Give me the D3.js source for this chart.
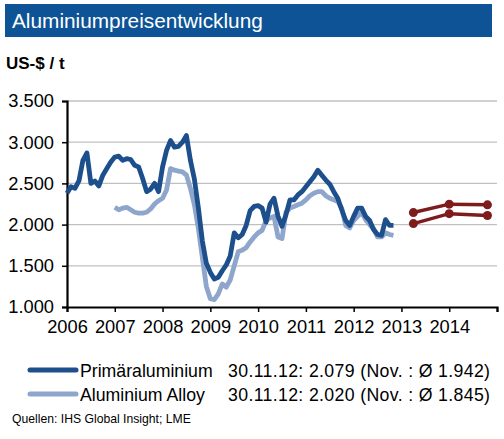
<!DOCTYPE html>
<html>
<head>
<meta charset="utf-8">
<script src="https://cdn.jsdelivr.net/npm/d3@7"></script>
<style>
  body { margin: 0; background: #fff; }
  svg { font-family: "Liberation Sans", Arial, sans-serif; }
</style>
</head>
<body>
<script>
// Monatswerte ab Jan 2006 (Primär) bzw. Jan 2007 (Alloy), US-$/t
var primaer = [2380, 2460, 2440, 2530, 2780, 2870, 2500, 2530, 2470, 2600, 2680, 2760,
  2820, 2830, 2780, 2800, 2790, 2720, 2700, 2560, 2400, 2430, 2500, 2400,
  2700, 2900, 3020, 2940, 2950, 3000, 3080, 2780, 2550, 2200, 1800, 1530,
  1420, 1340, 1360, 1440, 1510, 1620, 1900, 1840, 1880, 1990, 2170, 2220,
  2230, 2200, 2030, 2250, 2320, 2100, 1980, 2120, 2300, 2300, 2360, 2400,
  2460, 2520, 2580, 2660, 2600, 2540, 2490, 2400, 2320, 2180, 2050, 1990,
  2100, 2200, 2200, 2100, 2050, 1940, 1880, 1870, 2060, 1990, 1990];
var alloy = [2210, 2180, 2200, 2210, 2180, 2150, 2140, 2140, 2150, 2190, 2250, 2290,
  2320, 2420, 2680, 2660, 2650, 2640, 2600, 2440, 2240, 1950, 1600, 1250,
  1100, 1090, 1160, 1280, 1240, 1330, 1500, 1670, 1690, 1720, 1790, 1850,
  1900, 1930, 2050, 2080, 2100, 1850, 1830, 2150, 2200, 2220, 2240, 2260,
  2300, 2350, 2380, 2400, 2400, 2350, 2320, 2300, 2280, 2200, 1990, 1960,
  2050, 2100, 2150, 2060, 2000, 1950, 1850, 1850, 1900, 1880, 1870];
var primaerStart = 2006, alloyStart = 2007;

// Prognosen
var progJahre = [2013.25, 2014.0, 2014.8];
var progPrimaer = [2146, 2248, 2240];
var progAlloy = [2012, 2133, 2110];

var yTicks = [1000, 1500, 2000, 2500, 3000, 3500];
var xTicks = [2006, 2007, 2008, 2009, 2010, 2011, 2012, 2013, 2014, 2015];
var legende = [
  {name: "Primäraluminium", info: "30.11.12: 2.079 (Nov. : Ø 1.942)", farbe: "#1c4f8c"},
  {name: "Aluminium Alloy", info: "30.11.12: 2.020 (Nov. : Ø 1.845)", farbe: "#8ea6cb"}
];

var W = 504, H = 439;
var svg = d3.select("body").append("svg").attr("width", W).attr("height", H);

// Titelbalken
svg.append("rect").attr("x", 5).attr("y", 4).attr("width", 487).attr("height", 33).attr("fill", "#0d5396");
svg.append("text").attr("x", 12).attr("y", 28).attr("fill", "#fff").attr("font-size", 20.8)
  .text("Aluminiumpreisentwicklung");
svg.append("text").attr("x", 6).attr("y", 69).attr("font-size", 17).attr("font-weight", "bold")
  .text("US-$ / t");

var x = d3.scaleLinear().domain([2006, 2015]).range([67, 497]);
var y = d3.scaleLinear().domain([1000, 3500]).range([307, 101]);

// Gitterlinien
svg.append("g").selectAll("line").data(yTicks.slice(1)).join("line")
  .attr("x1", 67).attr("x2", 497)
  .attr("y1", d => y(d)).attr("y2", d => y(d))
  .attr("stroke", "#c0c0c0").attr("stroke-width", 1.3);

var yAxis = svg.append("g").attr("transform", "translate(67,0)")
  .call(d3.axisLeft(y).tickValues(yTicks).tickSize(5).tickPadding(8)
    .tickFormat(d => (d / 1000).toFixed(3)));
var xAxis = svg.append("g").attr("transform", "translate(0,307)")
  .call(d3.axisBottom(x).tickValues(xTicks).tickSize(5).tickPadding(5)
    .tickFormat(d => d < 2015 ? d : ""));
[yAxis, xAxis].forEach(function (a) {
  a.select(".domain").attr("stroke", "#000").attr("stroke-width", 2.2);
  a.selectAll(".tick line").attr("stroke", "#000").attr("stroke-width", 1.5);
  a.selectAll("text").attr("font-size", 18.3).attr("fill", "#000")
    .attr("font-family", "Liberation Sans, Arial, sans-serif");
});
xAxis.selectAll("text").attr("dy", "0.85em");

var line = d3.line().x(d => x(d[0])).y(d => y(d[1]));

function serie(werte, start) {
  return werte.map((v, i) => [start + i / 12, v]);
}

svg.append("path").datum(serie(alloy, alloyStart)).attr("d", line)
  .attr("fill", "none").attr("stroke", legende[1].farbe).attr("stroke-width", 4.8)
  .attr("stroke-linejoin", "round");
svg.append("path").datum(serie(primaer, primaerStart)).attr("d", line)
  .attr("fill", "none").attr("stroke", legende[0].farbe).attr("stroke-width", 4.8)
  .attr("stroke-linejoin", "round");

// Prognose (dunkelrot)
[progPrimaer, progAlloy].forEach(function (p) {
  var pts = progJahre.map((j, i) => [j, p[i]]);
  svg.append("path").datum(pts).attr("d", line)
    .attr("fill", "none").attr("stroke", "#7e1b1b").attr("stroke-width", 3.5);
  svg.append("g").selectAll("circle").data(pts).join("circle")
    .attr("cx", d => x(d[0])).attr("cy", d => y(d[1])).attr("r", 4.5)
    .attr("fill", "#7e1b1b");
});

// Legende
var leg = svg.append("g").selectAll("g").data(legende).join("g")
  .attr("transform", (d, i) => "translate(0," + (370 + i * 24) + ")");
leg.append("line").attr("x1", 30).attr("x2", 76).attr("y1", 0).attr("y2", 0)
  .attr("stroke", d => d.farbe).attr("stroke-width", 5).attr("stroke-linecap", "round");
leg.append("text").attr("x", 80).attr("y", 6.5).attr("font-size", 17.7).text(d => d.name);
leg.append("text").attr("x", 228).attr("y", 6.5).attr("font-size", 17.7)
  .attr("textLength", 262).attr("lengthAdjust", "spacing").text(d => d.info);

svg.append("text").attr("x", 12).attr("y", 423).attr("font-size", 12.2)
  .text("Quellen: IHS Global Insight; LME");
</script>
</body>
</html>
